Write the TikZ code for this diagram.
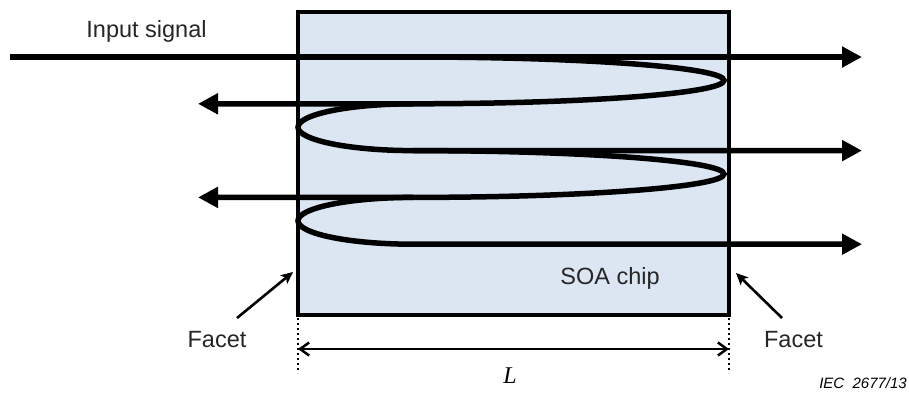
\documentclass[tikz,border=0pt]{standalone}
\usepackage{fontspec}
\setmainfont{Liberation Sans}
\newfontfamily\serifit{Liberation Serif}
\usetikzlibrary{arrows.meta}
\definecolor{chipfill}{HTML}{DCE6F2}
\begin{document}
\begin{tikzpicture}[x=1pt,y=-1pt,
  beam/.style={line width=5.5pt},
  bigtip/.style={-{Triangle[length=20pt,width=20pt]}},
  facetarrow/.style={line width=2.6pt,-{Stealth[length=12pt,width=11pt,inset=3pt]}},
  dimline/.style={line width=2.5pt,{Straight Barb[length=9pt,width=13pt]}-{Straight Barb[length=9pt,width=13pt]}},
  dotline/.style={line width=2.2pt,dash pattern=on 2pt off 3pt},
  lbl/.style={font=\fontsize{23.5}{27}\selectfont, anchor=base, inner sep=0pt, text=black!85}]
\useasboundingbox (0,0) rectangle (909,394);

% chip
\draw[fill=chipfill,line width=4pt] (298,12) rectangle (729,314.5);
\coordinate (chipL) at (298,314.5);
\coordinate (chipR) at (729,314.5);

% key points
\coordinate (in) at (10,57);
\coordinate (out1) at (862,57);
\coordinate (j0) at (413,57);
\coordinate (j1) at (413,103.8);
\coordinate (j2) at (413,150.6);
\coordinate (j3) at (413,197.4);
\coordinate (j4) at (413,244.2);
\coordinate (back1) at (198,103.8);
\coordinate (out2) at (862,150.6);
\coordinate (back2) at (198,197.4);
\coordinate (out3) at (862,244.2);

% beams
\draw[beam,bigtip] (in) -- (out1);
\draw[beam,bigtip] (j0) .. controls (584.8,57) and (724,67.5) .. (724,80.4)
   .. controls (724,93.3) and (584.8,103.8) .. (j1) -- (back1);
\draw[beam,bigtip] (j1) .. controls (349.5,103.8) and (298,114.3) .. (298,127.2)
   .. controls (298,140.1) and (349.5,150.6) .. (j2) -- (out2);
\draw[beam,bigtip] (j2) .. controls (584.8,150.6) and (724,161.1) .. (724,174)
   .. controls (724,186.9) and (584.8,197.4) .. (j3) -- (back2);
\draw[beam,bigtip] (j3) .. controls (349.5,197.4) and (298,207.9) .. (298,220.8)
   .. controls (298,233.7) and (349.5,244.2) .. (j4) -- (out3);

% labels
\node[lbl] (insig) at (146.5,37.5) {Input signal};
\node[lbl] (soa) at (610,284) {SOA chip};
\node[lbl] (facetL) at (217,347) {Facet};
\node[lbl] (facetR) at (793.5,347) {Facet};
\node[anchor=base,inner sep=0pt,font=\serifit\itshape\fontsize{24}{28}\selectfont] (len) at (510,383) {L};
\node[anchor=base east,inner sep=0pt,font=\itshape\fontsize{15}{18}\selectfont] (iec) at (907,388) {IEC\ \ 2677/13};

% facet arrows
\coordinate (fLs) at (237,318);
\coordinate (fLt) at (293,272);
\coordinate (fRs) at (782,318);
\coordinate (fRt) at (736,273);
\draw[facetarrow] (fLs) -- (fLt);
\draw[facetarrow] (fRs) -- (fRt);

% dimension
\coordinate (dL) at (298,349);
\coordinate (dR) at (729,349);
\draw[dotline] (298,318) -- (298,373);
\draw[dotline] (729,318) -- (729,373);
\draw[dimline] (dL) -- (dR);
\end{tikzpicture}
\end{document}
